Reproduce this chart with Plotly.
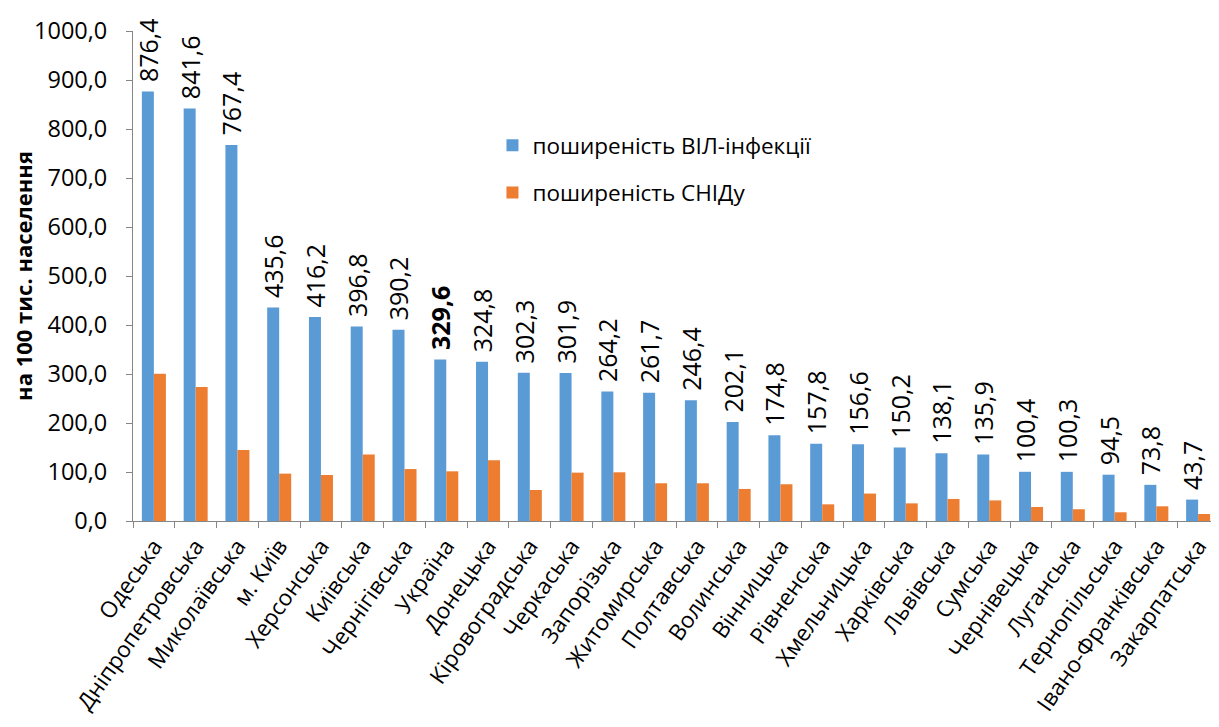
import plotly.graph_objects as go

categories = ["Одеська", "Дніпропетровська", "Миколаївська", "м. Київ", "Херсонська",
              "Київська", "Чернігівська", "Україна", "Донецька", "Кіровоградська",
              "Черкаська", "Запорізька", "Житомирська", "Полтавська", "Волинська",
              "Вінницька", "Рівненська", "Хмельницька", "Харківська", "Львівська",
              "Сумська", "Чернівецька", "Луганська", "Тернопільська",
              "Івано-Франківська", "Закарпатська"]
hiv_prevalence = [876.4, 841.6, 767.4, 435.6, 416.2, 396.8, 390.2, 329.6, 324.8, 302.3,
                  301.9, 264.2, 261.7, 246.4, 202.1, 174.8, 157.8, 156.6, 150.2, 138.1,
                  135.9, 100.4, 100.3, 94.5, 73.8, 43.7]
aids_prevalence = [300.5, 273.5, 145.0, 96.7, 93.9, 135.5, 106.0, 101.4, 124.0, 63.3,
                   98.7, 99.4, 77.0, 77.0, 65.4, 75.0, 34.0, 56.0, 36.0, 45.0,
                   42.0, 28.6, 24.0, 17.8, 30.0, 14.3]
bold_category = "Україна"
series_names = ["поширеність ВІЛ-інфекції", "поширеність СНІДу"]
y_title = "на 100 тис. населення"

FONT = "Open Sans"

labels = []
for c, v in zip(categories, hiv_prevalence):
    s = f"{v:.1f}".replace(".", ",")
    s = f"<b>{s}</b>" if c == bold_category else s
    labels.append("\u00a0" + s)

fig = go.Figure()
fig.add_trace(go.Bar(
    x=categories, y=hiv_prevalence, name=series_names[0],
    marker=dict(color="#5B9BD5", line=dict(width=0)),
    text=labels, textposition="outside", textangle=-90,
    textfont=dict(family=FONT, size=25, color="black"),
    constraintext="none", cliponaxis=False,
    legendgroup="a",
))
fig.add_trace(go.Bar(
    x=categories, y=aids_prevalence, name=series_names[1],
    marker=dict(color="#ED7D31", line=dict(width=0)),
    legendgroup="b", cliponaxis=False,
))

# page body has an 8px default margin; the figure is sized so it ends at the window edge
fig.update_layout(
    width=1211, height=719,
    margin=dict(l=125, r=0, t=23, b=206, autoexpand=False),
    paper_bgcolor="white", plot_bgcolor="white",
    barmode="group", bargap=0.425, bargroupgap=0,
    separators=", ",
    font=dict(family=FONT, color="black"),
    showlegend=True,
    legend=dict(
        x=0.331, y=0.718, xanchor="left", yanchor="middle",
        font=dict(family=FONT, size=22.5, color="black"),
        traceorder="grouped", tracegroupgap=15,
        bgcolor="rgba(0,0,0,0)",
    ),
    xaxis=dict(
        type="category", tickson="boundaries", ticks="outside", ticklen=6,
        tickcolor="#868686", showline=True, linecolor="#868686", linewidth=1,
        tickangle=-55, tickfont=dict(family=FONT, size=22.5, color="black"),
        ticklabelstandoff=2,
        showgrid=False, zeroline=False, automargin=False,
    ),
    yaxis=dict(
        range=[0, 1000], dtick=100, tick0=0, tickformat=".1f",
        ticks="outside", ticklen=6, tickcolor="#868686",
        showline=True, linecolor="#868686", linewidth=1,
        tickfont=dict(family=FONT, size=23.5, color="black"),
        ticklabelstandoff=14,
        showgrid=False, zeroline=False, automargin=False,
        title=dict(text=f"<b>{y_title}</b>", font=dict(family=FONT, size=22, color="black"),
                   standoff=12),
    ),
)

fig.write_html("out.html")
